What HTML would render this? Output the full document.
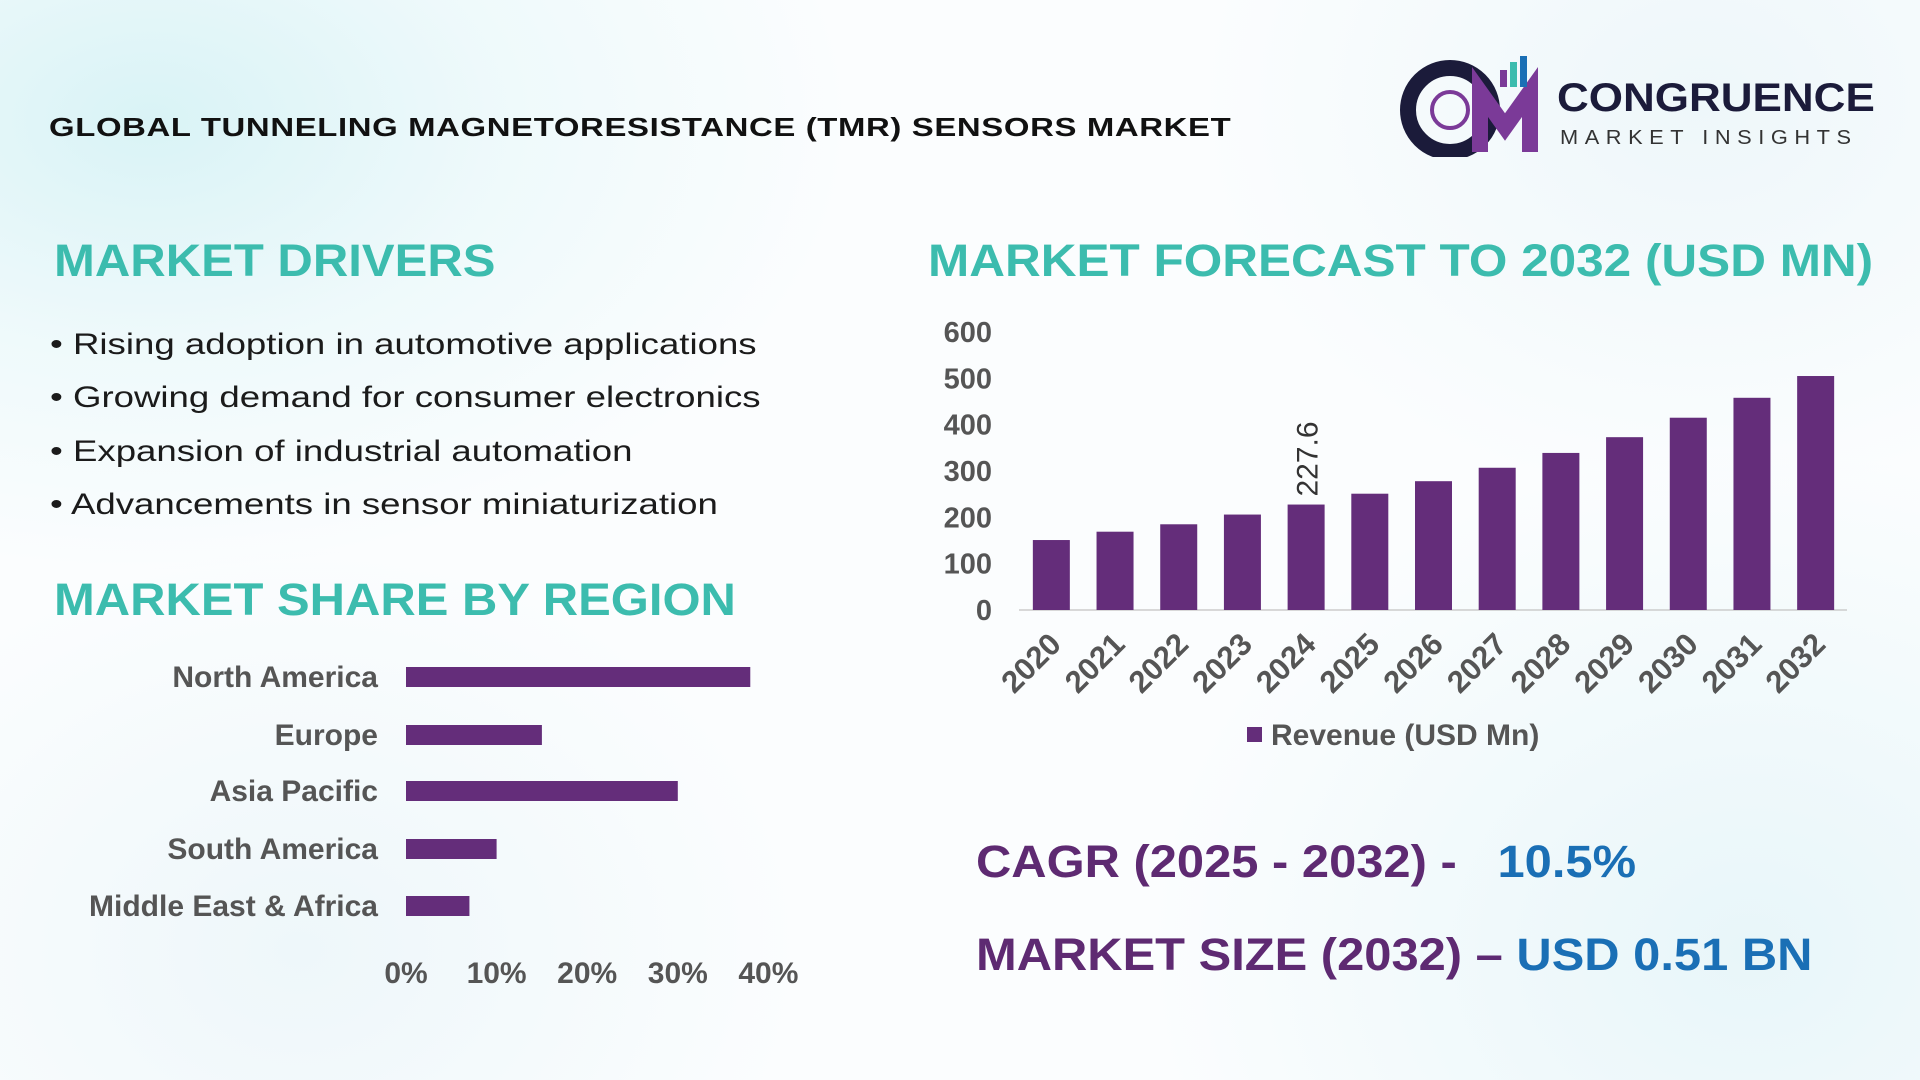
<!DOCTYPE html>
<html><head><meta charset="utf-8"><style>
body{margin:0;width:1920px;height:1080px;overflow:hidden;font-family:"Liberation Sans",sans-serif;}
#bg{position:absolute;left:0;top:0;width:1920px;height:1080px;background:
radial-gradient(ellipse 700px 450px at 150px 120px,#d9f3f6 0%,rgba(230,247,249,0.6) 50%,rgba(255,255,255,0) 100%),
radial-gradient(ellipse 500px 400px at 1700px 100px,#eef7fa 0%,rgba(255,255,255,0) 100%),
radial-gradient(ellipse 600px 500px at 1750px 950px,#e8f6f9 0%,rgba(255,255,255,0) 100%),
radial-gradient(ellipse 500px 400px at 300px 950px,#eef7fa 0%,rgba(255,255,255,0) 100%),#fbfdfe;}
.t{position:absolute;white-space:nowrap;transform-origin:0 0;}
.h{color:#3cbcae;font-weight:bold;font-size:45px;}
.b{font-size:30px;color:#1b1b1b;transform:scaleX(1.22);}
</style></head><body>
<div id="bg"></div>
<div class="t" style="left:49px;top:112px;font-size:26px;font-weight:bold;color:#111;letter-spacing:0.5px;transform:scaleX(1.265)">GLOBAL TUNNELING MAGNETORESISTANCE (TMR) SENSORS MARKET</div>
<svg class="t" style="left:1400px;top:52px" width="150" height="105">
<circle cx="50" cy="58" r="42" fill="none" stroke="#1b1b3a" stroke-width="16"/>
<circle cx="50" cy="58" r="18" fill="none" stroke="#7b3a98" stroke-width="4"/>
<path d="M80 100 V40 L105 75 L130 40 V100" fill="none" stroke="#7b3a98" stroke-width="16"/>
<rect x="110" y="10" width="7" height="25" fill="#3cbcae"/><rect x="120" y="4" width="7" height="31" fill="#1a6fb5"/><rect x="100" y="18" width="7" height="17" fill="#7b3a98"/>
</svg>
<div class="t" style="left:1557px;top:76px;font-size:40px;font-weight:bold;color:#1b1b3a;transform:scaleX(1.1)">CONGRUENCE</div>
<div class="t" style="left:1560px;top:127px;font-size:20px;letter-spacing:6px;color:#333;transform:scaleX(1.09)">MARKET INSIGHTS</div>

<div class="t h" style="left:54px;top:235px;transform:scaleX(1.09)">MARKET DRIVERS</div>
<div class="t b" style="left:50px;top:328px">• Rising adoption in automotive applications</div>
<div class="t b" style="left:50px;top:381px">• Growing demand for consumer electronics</div>
<div class="t b" style="left:50px;top:435px">• Expansion of industrial automation</div>
<div class="t b" style="left:50px;top:488px">• Advancements in sensor miniaturization</div>
<div class="t h" style="left:54px;top:574px;transform:scaleX(1.088)">MARKET SHARE BY REGION</div>
<div class="t h" style="left:928px;top:235px;transform:scaleX(1.10)">MARKET FORECAST TO 2032 (USD MN)</div>

<svg id="bar" class="t" style="left:0;top:0" width="1920" height="1080"></svg>
<svg id="reg" class="t" style="left:0;top:0" width="1920" height="1080"></svg>

<div class="t" style="left:976px;top:836px;font-size:45px;font-weight:bold;color:#5e2a72;transform:scaleX(1.086)">CAGR (2025 - 2032) -&nbsp;&nbsp;&nbsp;<span style="color:#1a6fb5">10.5%</span></div>
<div class="t" style="left:976px;top:929px;font-size:45px;font-weight:bold;color:#5e2a72;transform:scaleX(1.086)">MARKET SIZE (2032) – <span style="color:#1a6fb5">USD 0.51 BN</span></div>
<script>
const years=["2020","2021","2022","2023","2024","2025","2026","2027","2028","2029","2030","2031","2032"];
const revenue=[151,169,185,206,227.6,251,278,307,339,373,415,458,505];
const yTicks=[0,100,200,300,400,500,600];
const regions=["North America","Europe","Asia Pacific","South America","Middle East & Africa"];
const shares=[38,15,30,10,7];
const xTicks=[0,10,20,30,40];
const NS="http://www.w3.org/2000/svg";
function mk(p,t,a,txt){const e=document.createElementNS(NS,t);for(const k in a)e.setAttribute(k,a[k]);if(txt!==undefined)e.textContent=txt;p.appendChild(e);return e;}
const bar=document.getElementById('bar');
const y0=610,yTop=332,x0=1019,x1=1847;
const ys=v=>y0-(v/600)*(y0-yTop);
const step=(x1-x0)/years.length;
const xc=i=>x0+step*(i+0.5);
yTicks.forEach(v=>{const e=mk(bar,'text',{x:992,y:ys(v)+10,'text-anchor':'end','font-size':29,'font-weight':'bold',fill:'#555'},v);
});
const ax=mk(bar,'line',{x1:x0,x2:x1,y1:y0,y2:y0,stroke:'#ccc','stroke-width':1.5});

years.forEach((y,i)=>{const r=mk(bar,'rect',{x:xc(i)-18,y:ys(revenue[i]),width:37,height:y0-ys(revenue[i]),fill:'#642d7a'});

const t=mk(bar,'text',{x:xc(i)+12,y:y0+36,'text-anchor':'end','font-size':31,'font-weight':'bold',fill:'#555',transform:`rotate(-45 ${xc(i)+12} ${y0+36})`},y);
});
const li=4;const lx=xc(li)+12,ly=ys(revenue[li])-8;
const dl=mk(bar,'text',{x:lx,y:ly,'font-size':30,fill:'#333',transform:`rotate(-90 ${lx} ${ly})`},revenue[li]);

const lg=mk(bar,'rect',{x:1247,y:727,width:15,height:15,fill:'#642d7a'});

const lt=mk(bar,'text',{x:1271,y:745,'font-size':30,'font-weight':'bold',fill:'#555'},'Revenue (USD Mn)');


const reg=document.getElementById('reg');
const rx0=406,per=9.06;const rowY=[677,735,791,849,906];
regions.forEach((n,i)=>{const r=mk(reg,'rect',{x:rx0,y:rowY[i]-10,width:shares[i]*per,height:20,fill:'#642d7a'});

const t=mk(reg,'text',{x:378,y:rowY[i]+10,'text-anchor':'end','font-size':30,'font-weight':'bold',fill:'#555'},n);
});
xTicks.forEach(v=>{const t=mk(reg,'text',{x:rx0+v*per,y:983,'text-anchor':'middle','font-size':30,'font-weight':'bold',fill:'#555'},v+'%');
});
</script>
</body></html>
